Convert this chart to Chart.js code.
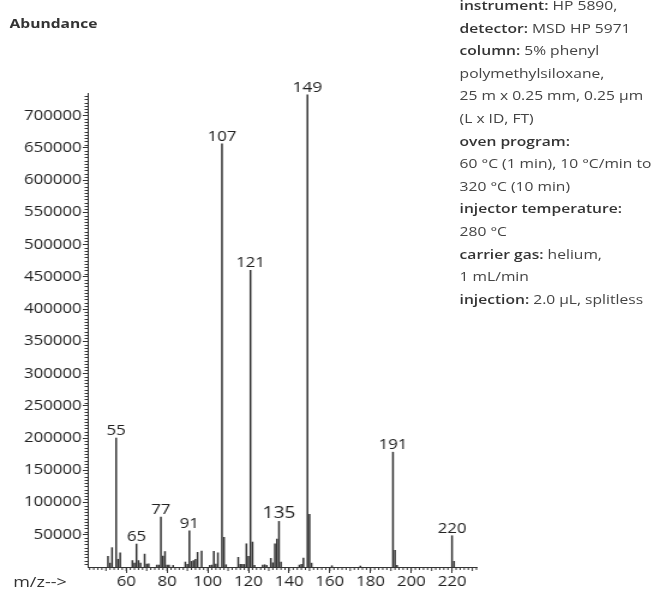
<!DOCTYPE html>
<html>
<head>
<meta charset="utf-8">
<script src="https://cdn.jsdelivr.net/npm/chart.js"></script>
<style>
  html, body { margin: 0; padding: 0; background: #fff; }
  #frame { position: relative; width: 658px; height: 591px; overflow: hidden; }
  /* the original figure is drawn a bit wide, so stretch the whole thing horizontally */
  #wrap { position: absolute; left: 0; top: 0; width: 549px; height: 591px; transform: scaleX(1.2); transform-origin: 0 0;
          font-family: "Open Sans", "Noto Sans", sans-serif; color: #333; }
  #ctx { position: absolute; left: 0; top: 0; }
  .lbl { position: absolute; white-space: nowrap; }
  #info { position: absolute; left: 383px; top: -6px; font-size: 13px; line-height: 22.6px; color: #444; white-space: nowrap; }
  #info b { font-weight: 600; color: #333; }
</style>
</head>
<body>
<div id="frame">
<div id="wrap">
  <canvas id="ctx" width="549" height="591"></canvas>
  <div class="lbl" style="left:8px; top:14px; font-size:13px; font-weight:700; color:#333;">Abundance</div>
  <div class="lbl" style="left:11px; top:571px; font-size:15px; color:#333;">m/z--&gt;</div>
  <div id="info">
    <div><b>instrument:</b> HP 5890,</div>
    <div><b>detector:</b> MSD HP 5971</div>
    <div><b>column:</b> 5% phenyl</div>
    <div>polymethylsiloxane,</div>
    <div>25 m x 0.25 mm, 0.25 µm</div>
    <div>(L x ID, FT)</div>
    <div><b>oven program:</b></div>
    <div>60 °C (1 min), 10 °C/min to</div>
    <div>320 °C (10 min)</div>
    <div><b>injector temperature:</b></div>
    <div>280 °C</div>
    <div><b>carrier gas:</b> helium,</div>
    <div>1 mL/min</div>
    <div><b>injection:</b> 2.0 µL, splitless</div>
  </div>
</div>
</div>
<script>
// peaks (m/z and abundance)
const mz = [51, 52, 53, 55, 56, 57, 63, 64, 65, 66, 67, 69, 70, 71, 75, 76, 77, 78, 79, 80, 81, 83,
  89, 90, 91, 92, 93, 94, 95, 97, 101, 102, 103, 104, 105, 107, 108, 109,
  115, 116, 117, 118, 119, 120, 121, 122, 123, 127, 128, 129, 131, 132, 133, 134, 135, 136,
  145, 146, 147, 149, 150, 151, 161, 175, 191, 192, 193, 220, 221];
const abundance = [16500, 6000, 30000, 200000, 12000, 22000, 10000, 6000, 35600, 10000, 6000, 20000, 4500, 5000, 3000, 3000, 77500, 17000, 24000, 3000, 3000, 2500,
  7700, 4000, 56000, 8700, 10000, 12000, 22700, 24700, 2500, 3000, 24300, 4500, 22000, 656000, 46000, 3500,
  15000, 4000, 4000, 4000, 36000, 16500, 460000, 38700, 2500, 3000, 3500, 2500, 13400, 6500, 36000, 43300, 70700, 7700,
  3000, 4000, 14000, 732000, 81500, 6000, 2000, 1500, 178000, 25800, 2500, 48500, 8800];

// labelled peaks
const peakLabels = [55, 65, 77, 91, 107, 121, 135, 149, 191, 220];
const peakLabelSize = [14, 14, 14, 14, 14, 14, 16, 14.5, 14, 14];

const xTicks = [60, 80, 100, 120, 140, 160, 180, 200, 220];
const yTicks = [50000, 100000, 150000, 200000, 250000, 300000, 350000, 400000, 450000, 500000, 550000, 600000, 650000, 700000];

const points = mz.map((m, i) => ({x: m, y: abundance[i]}));

const peakLabelPlugin = {
  id: 'peakLabels',
  afterDatasetsDraw(chart) {
    const c = chart.ctx;
    const xs = chart.scales.x, ys = chart.scales.y;
    c.save();
    c.fillStyle = '#222';
    c.textAlign = 'center';
    c.textBaseline = 'alphabetic';
    peakLabels.forEach((m, i) => {
      const v = abundance[mz.indexOf(m)];
      c.font = peakLabelSize[i] + 'px "Open Sans", "Noto Sans", sans-serif';
      c.fillText(String(m), xs.getPixelForValue(m), ys.getPixelForValue(v) - 3);
    });
    c.restore();
  }
};

const minorTickPlugin = {
  id: 'minorTicks',
  afterDraw(chart) {
    const c = chart.ctx;
    const xs = chart.scales.x, ys = chart.scales.y;
    const bottom = Math.round(ys.getPixelForValue(0));
    const left = xs.left;
    c.save();
    c.strokeStyle = '#333';
    c.lineWidth = 1;
    c.beginPath();
    for (let m = 42; m <= 232; m += 2) {
      const px = xs.getPixelForValue(m);
      const len = (m % 10 === 0) ? 4 : 3;
      c.moveTo(px, bottom);
      c.lineTo(px, bottom + len);
    }
    for (let v = 5000; v <= 730000; v += 5000) {
      if (v % 50000 === 0) continue;
      const py = Math.round(ys.getPixelForValue(v)) + 0.5;
      c.moveTo(left - 2.5, py);
      c.lineTo(left + 0.5, py);
    }
    c.stroke();
    c.restore();
  }
};

new Chart('ctx', {
  type: 'bar',
  data: {
    datasets: [{
      data: points,
      backgroundColor: '#333',
      borderWidth: 0,
      barThickness: 0.85
    }]
  },
  options: {
    responsive: false,
    animation: false,
    layout: { padding: { top: 93, right: 152, left: 0, bottom: 0 } },
    plugins: { legend: { display: false }, tooltip: { enabled: false } },
    scales: {
      x: {
        type: 'linear',
        min: 41,
        max: 232,
        offset: false,
        afterBuildTicks: (scale) => { scale.ticks = xTicks.map(v => ({value: v})); },
        afterFit: (scale) => { scale.height = 24; },
        grid: { drawOnChartArea: false, drawTicks: true, tickLength: 6, color: '#333', offset: false },
        border: { display: true, color: '#333', width: 1 },
        ticks: {
          color: '#222',
          padding: 1,
          maxRotation: 0,
          autoSkip: false,
          font: { family: '"Open Sans", "Noto Sans", sans-serif', size: 14 }
        }
      },
      y: {
        type: 'linear',
        min: 0,
        max: 735000,
        afterBuildTicks: (scale) => { scale.ticks = yTicks.map(v => ({value: v})); },
        afterFit: (scale) => { scale.width = 73; },
        grid: { drawOnChartArea: false, drawTicks: true, tickLength: 4, color: '#333' },
        border: { display: true, color: '#333', width: 1 },
        ticks: {
          color: '#222',
          padding: 1,
          autoSkip: false,
          callback: (v) => String(v),
          font: { family: '"Open Sans", "Noto Sans", sans-serif', size: 14 }
        }
      }
    }
  },
  plugins: [peakLabelPlugin, minorTickPlugin]
});
</script>
</body>
</html>
